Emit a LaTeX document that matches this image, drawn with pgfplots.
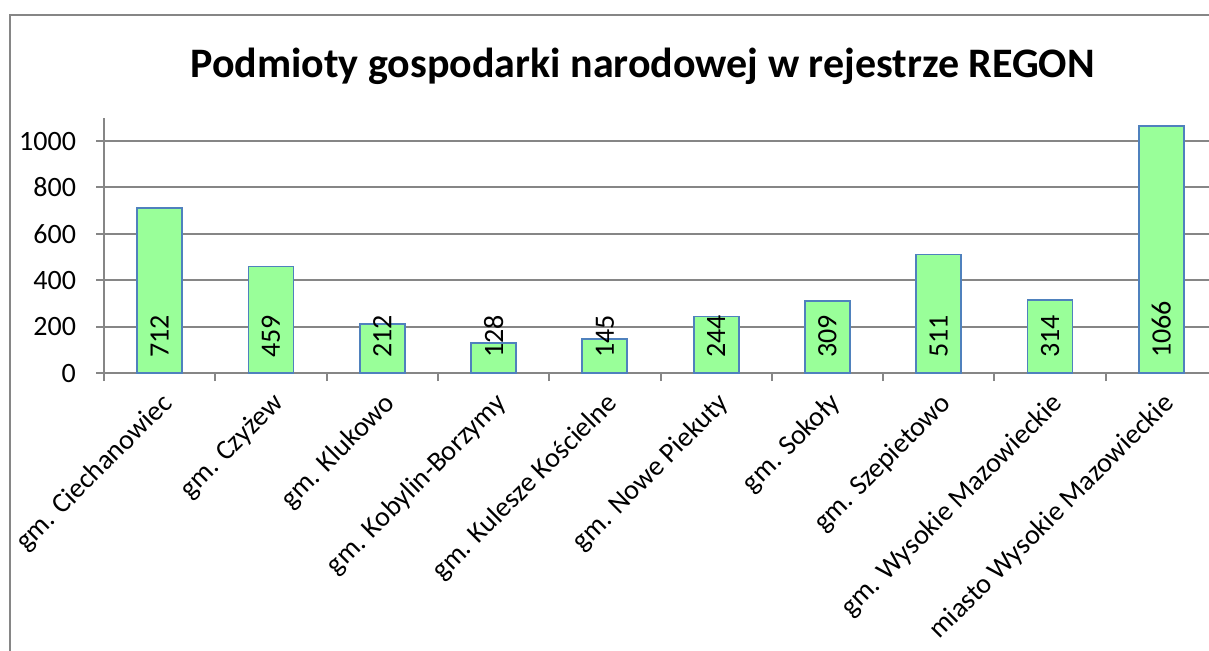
\documentclass[border=0pt]{standalone}
\usepackage{fontspec}
\setmainfont{Carlito}
\usepackage{pgfplots}
\pgfplotsset{compat=1.18}
\definecolor{barfill}{RGB}{153,255,153}
\definecolor{barline}{RGB}{79,129,189}
\definecolor{gridc}{RGB}{134,134,134}
\begin{document}
\begin{tikzpicture}
\clip (-52pt,-138.5pt) rectangle (552.5pt,186.5pt);
\fill[white] (-52pt,-138.5pt) rectangle (552.5pt,186.5pt);
\draw[gridc, line width=1pt] (-47pt,-300pt) -- (-47pt,179pt) -- (700pt,179pt);
\begin{axis}[
  at={(0pt,0pt)}, anchor=south west,
  scale only axis, width=556.5pt, height=127.6pt,
  xmin=-0.5, xmax=9.5, ymin=0, ymax=1100,
  axis x line*=bottom, axis y line*=left,
  axis line style={gridc, line width=1pt, -},
  ytick={0,200,...,1000},
  ymajorgrids, grid style={gridc, line width=1pt},
  xtick={0,...,9},
  xticklabels={gm. Ciechanowiec, gm. Czyżew, gm. Klukowo, gm. Kobylin-Borzymy, gm. Kulesze Kościelne, gm. Nowe Piekuty, gm. Sokoły, gm. Szepietowo, gm. Wysokie Mazowieckie, miasto Wysokie Mazowieckie},
  minor xtick={-0.5,0.5,...,9.5},
  major x tick style={draw=none},
  tick style={gridc, line width=1pt},
  tick align=outside, major tick length=4pt, minor tick length=4pt,
  /pgf/number format/assume math mode=true,
  /pgf/number format/set thousands separator={},
  yticklabel style={font=\fontsize{14}{16}\selectfont, anchor=east, xshift=-6.5pt},
  xticklabel style={font=\fontsize{14}{16}\selectfont, rotate=45, anchor=north east},
  title={\bfseries Podmioty gospodarki narodowej w rejestrze REGON},
  title style={font=\fontsize{21}{25}\selectfont, at={(rel axis cs:0.484,1.156)}, anchor=center},
]
\addplot[ybar, bar width=22.5pt, fill=barfill, draw=barline, line width=0.9pt]
  coordinates {(0,712) (1,459) (2,212) (3,128) (4,145) (5,244) (6,309) (7,511) (8,314) (9,1066)};
\addplot[draw=none, mark=none, nodes near coords, point meta=explicit symbolic,
  nodes near coords style={rotate=90, anchor=west, inner xsep=7.5pt, inner ysep=0pt, font=\fontsize{14}{16}\selectfont, text=black}]
  coordinates {(0,0)[712] (1,0)[459] (2,0)[212] (3,0)[128] (4,0)[145] (5,0)[244] (6,0)[309] (7,0)[511] (8,0)[314] (9,0)[1066]};
\end{axis}
\end{tikzpicture}
\end{document}
